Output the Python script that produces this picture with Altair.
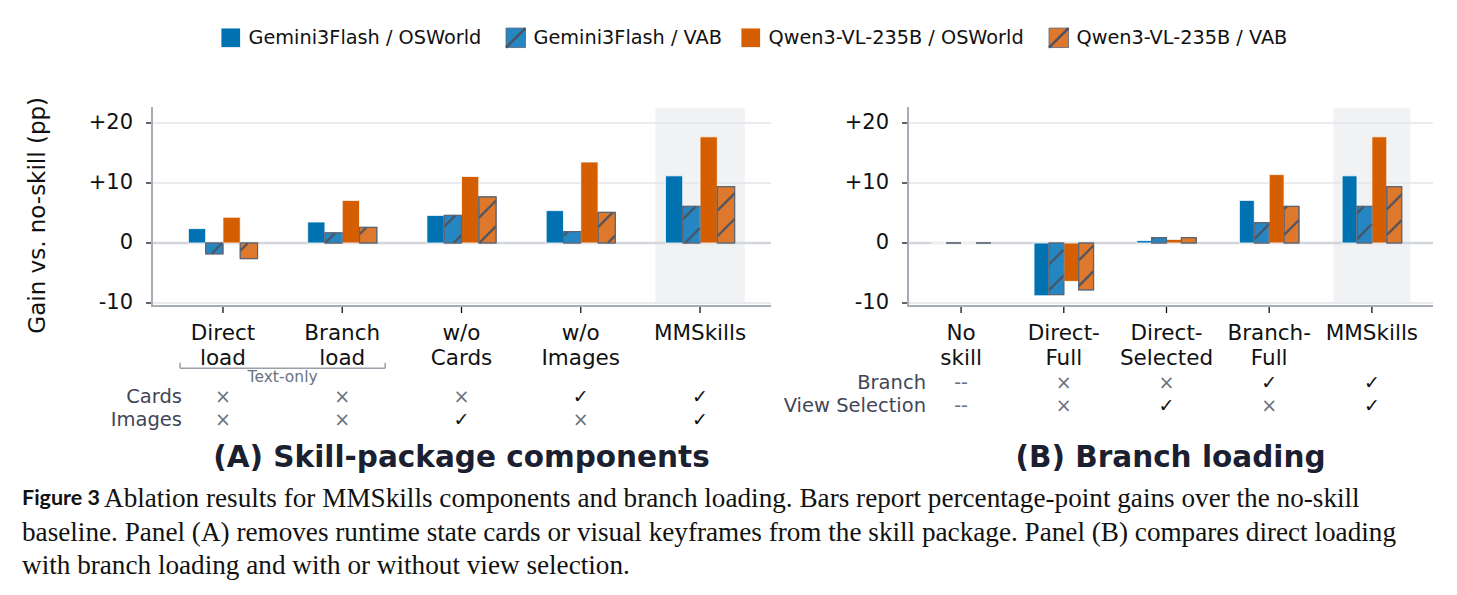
import altair as alt
import numpy as np
import pandas as pd

# ---------------- data ----------------
SERIES = [
    "Gemini3Flash / OSWorld",
    "Gemini3Flash / VAB",
    "Qwen3-VL-235B / OSWorld",
    "Qwen3-VL-235B / VAB",
]
SERIES_FILL = ["#0072B2", "#2686C1", "#D55E00", "#DE782D"]
SERIES_EDGE = ["#ffffff", "#5d6573", "#ffffff", "#5d6573"]
SERIES_HATCHED = [False, True, False, True]

# Panel A: skill-package components
CATS_A = ["Direct\nload", "Branch\nload", "w/o\nCards", "w/o\nImages", "MMSkills"]
GEM_OS_A = [2.4, 3.5, 4.6, 5.4, 11.2]
GEM_VAB_A = [-1.8, 1.7, 4.6, 1.9, 6.1]
QWEN_OS_A = [4.3, 7.1, 11.1, 13.5, 17.7]
QWEN_VAB_A = [-2.6, 2.6, 7.7, 5.1, 9.4]
ROWS_A = ["Cards", "Images"]
CARDS_A = ["×", "×", "×", "✓", "✓"]
IMAGES_A = ["×", "×", "✓", "×", "✓"]

# Panel B: branch loading
CATS_B = ["No\nskill", "Direct-\nFull", "Direct-\nSelected", "Branch-\nFull", "MMSkills"]
GEM_OS_B = [0.0, -8.8, 0.4, 7.1, 11.2]
GEM_VAB_B = [0.0, -8.6, 0.9, 3.4, 6.1]
QWEN_OS_B = [0.0, -6.4, 0.6, 11.4, 17.7]
QWEN_VAB_B = [0.0, -7.8, 0.9, 6.1, 9.4]
ROWS_B = ["Branch", "View Selection"]
BRANCH_B = ["--", "×", "×", "✓", "✓"]
VIEW_B = ["--", "×", "✓", "×", "✓"]

Y_TICKS = [-10, 0, 10, 20]
Y_TICK_LABELS = ["-10", "0", "+10", "+20"]
GRID_TICKS = [-10, 10, 20]
HIGHLIGHT_IDX = 4

CAPTION_HEAD = "Figure 3"
CAPTION_LINES = [
    "Ablation results for MMSkills components and branch loading. Bars report percentage-point gains over the no-skill",
    "baseline. Panel (A) removes runtime state cards or visual keyframes from the skill package. Panel (B) compares direct loading",
    "with branch loading and with or without view selection.",
]

# ---------------- layout ----------------
W_A, W_B, H = 619, 525, 199
GAP = 137
ORIGIN_A = (152.0, 106.7)
ORIGIN_B = (ORIGIN_A[0] + W_A + GAP, ORIGIN_A[1])
PAGE_W, PAGE_H = 1457, 595
Y_DOM = [-10.5, 22.67]
XDOM_A = [-0.595, 4.595]
XDOM_B = [-0.517, 4.595]
SLOT = 0.145
HL_HALF = 0.375
HL_Y = [-10, 22.45]
HATCH_STEP = 25.7
TICK = 6

SANS = "DejaVu Sans"
SERIF = "Liberation Serif"
INK = "#111111"
SLATE = "#3f4756"
MUTED = "#6b7280"
GRID = "#e2e4e9"
SPINE = "#a7adb7"
HATCH_INK = "#4a5262"

ONE = pd.DataFrame({"k": [0]})


def bar_table(series_values):
    rows = []
    for j, vals in enumerate(series_values):
        for i, v in enumerate(vals):
            c = i + (j - 1.5) * SLOT
            rows.append(dict(series=SERIES[j], idx=i, value=v, zero=0.0,
                             xl=c - SLOT / 2, xr=c + SLOT / 2,
                             hatched=SERIES_HATCHED[j]))
    return pd.DataFrame(rows)


def diag_segments(x0, x1, ytop, ybot, offsets):
    """Pieces of the lines x + y = c (screen pixels) inside a rectangle."""
    segs = []
    for c in offsets:
        xs = max(x0, c - ybot)
        xe = min(x1, c - ytop)
        if xe - xs > 0.3:
            segs.append((xs, c - xs, xe, c - xe))
    return segs


def hatch_offsets(x0, x1, ytop, ybot, phase):
    k0 = np.floor((x0 + ytop - phase) / HATCH_STEP)
    k1 = np.ceil((x1 + ybot - phase) / HATCH_STEP)
    return [phase + k * HATCH_STEP for k in np.arange(k0, k1 + 1)]


def hatch_table(bars, xdom, width, phase):
    sx = width / (xdom[1] - xdom[0])
    sy = H / (Y_DOM[1] - Y_DOM[0])
    out = []
    for r in bars[bars.hatched].itertuples():
        x0 = (r.xl - xdom[0]) * sx
        x1 = (r.xr - xdom[0]) * sx
        ya = (Y_DOM[1] - r.value) * sy
        yb = (Y_DOM[1] - 0.0) * sy
        ytop, ybot = min(ya, yb), max(ya, yb)
        for xs, ys, xe, ye in diag_segments(x0, x1, ytop, ybot,
                                            hatch_offsets(x0, x1, ytop, ybot, phase)):
            out.append(dict(x=xdom[0] + xs / sx, y=Y_DOM[1] - ys / sy,
                            x2=xdom[0] + xe / sx, y2=Y_DOM[1] - ye / sy))
    return pd.DataFrame(out, columns=["x", "y", "x2", "y2"])


def label(text, x, y, **mark):
    """A text placed in pixel coordinates of the panel."""
    return alt.Chart(ONE).mark_text(text=text, **mark).encode(
        x=alt.value(x), y=alt.value(y))


def panel(cats, series_values, rows, row_marks, xdom, width, origin, title,
          phase, row_y, row_label_x):
    xs = alt.Scale(domain=xdom, nice=False, zero=False)
    ys = alt.Scale(domain=Y_DOM, nice=False, zero=False)
    bars = bar_table(series_values)
    cat_df = pd.DataFrame({"idx": list(range(len(cats))), "t": cats})
    ytick_df = pd.DataFrame({"v": Y_TICKS, "t": Y_TICK_LABELS})

    layers = []
    # highlighted column
    layers.append(alt.Chart(pd.DataFrame({"x": [HIGHLIGHT_IDX - HL_HALF],
                                          "x2": [HIGHLIGHT_IDX + HL_HALF],
                                          "y": [HL_Y[0]], "y2": [HL_Y[1]]})).mark_rect(
        color="#f1f2f4").encode(
        x=alt.X("x:Q", scale=xs, axis=None), x2="x2:Q",
        y=alt.Y("y:Q", scale=ys, axis=None), y2="y2:Q"))
    # gridlines and the zero line
    layers.append(alt.Chart(pd.DataFrame({"g": GRID_TICKS})).mark_rule(
        color=GRID, strokeWidth=1.3).encode(
        y=alt.Y("g:Q", scale=ys, axis=None), x=alt.value(0), x2=alt.value(width)))
    layers.append(alt.Chart(ONE).mark_rule(color="#d3d6dc", strokeWidth=2.6).encode(
        y=alt.datum(0, scale=ys, axis=None), x=alt.value(0), x2=alt.value(width)))

    # bars, hatching and the hatched bars' outline
    layers.append(alt.Chart(bars).mark_rect(strokeWidth=0.8).encode(
        x=alt.X("xl:Q", scale=xs, axis=None), x2="xr:Q",
        y=alt.Y("value:Q", scale=ys, axis=None), y2="zero:Q",
        fill=alt.Fill("series:N", scale=alt.Scale(domain=SERIES, range=SERIES_FILL), legend=None),
        stroke=alt.Stroke("series:N", scale=alt.Scale(domain=SERIES, range=SERIES_EDGE), legend=None),
    ))
    layers.append(alt.Chart(hatch_table(bars, xdom, width, phase)).mark_rule(
        color=HATCH_INK, strokeWidth=2.4, strokeCap="butt", opacity=0.92).encode(
        x=alt.X("x:Q", scale=xs, axis=None), x2="x2:Q",
        y=alt.Y("y:Q", scale=ys, axis=None), y2="y2:Q"))
    layers.append(alt.Chart(bars[bars.hatched]).mark_rect(
        fillOpacity=0, stroke="#5d6573", strokeWidth=1.2).encode(
        x=alt.X("xl:Q", scale=xs, axis=None), x2="xr:Q",
        y=alt.Y("value:Q", scale=ys, axis=None), y2="zero:Q"))

    # axis spines, ticks and tick labels
    layers.append(alt.Chart(ONE).mark_rule(color=SPINE, strokeWidth=2).encode(
        x=alt.value(0), y=alt.value(0), y2=alt.value(H)))
    layers.append(alt.Chart(ONE).mark_rule(color=SPINE, strokeWidth=2).encode(
        x=alt.value(-1), x2=alt.value(width), y=alt.value(H)))
    layers.append(alt.Chart(ytick_df).mark_rule(color=INK, strokeWidth=1.3).encode(
        y=alt.Y("v:Q", scale=ys, axis=None), x=alt.value(-TICK), x2=alt.value(-1)))
    layers.append(alt.Chart(ytick_df).mark_text(
        font=SANS, fontSize=21, color=INK, align="right", baseline="middle").encode(
        y=alt.Y("v:Q", scale=ys, axis=None), x=alt.value(-TICK - 13), text="t:N"))
    layers.append(alt.Chart(cat_df).mark_rule(color=INK, strokeWidth=1.3).encode(
        x=alt.X("idx:Q", scale=xs, axis=None), y=alt.value(H + 1), y2=alt.value(H + TICK + 1)))
    layers.append(alt.Chart(cat_df).mark_text(
        font=SANS, fontSize=21.5, color=INK, align="center", baseline="middle",
        lineBreak="\n", lineHeight=25).encode(
        x=alt.X("idx:Q", scale=xs, axis=None), y=alt.value(333.5 - origin[1]), text="t:N"))

    # configuration table under the axis
    for r, (name, marks) in enumerate(zip(rows, row_marks)):
        py = row_y[r] - origin[1]
        tbl = pd.DataFrame({"idx": list(range(len(marks))), "t": marks,
                            "c": [INK if m == "✓" else MUTED for m in marks]})
        layers.append(alt.Chart(tbl).mark_text(font=SANS, fontSize=19, baseline="middle").encode(
            x=alt.X("idx:Q", scale=xs, axis=None), y=alt.value(py),
            text="t:N", color=alt.Color("c:N", scale=None)))
        layers.append(label(name, row_label_x - origin[0], py, font=SANS, fontSize=19.5,
                            align="right", baseline="middle", color=SLATE))

    layers.append(label(title, width / 2, 458 - origin[1], font=SANS, fontSize=29.5,
                        fontWeight="bold", align="center", baseline="middle",
                        color="#1b2030"))
    return layers


layers_a = panel(CATS_A, [GEM_OS_A, GEM_VAB_A, QWEN_OS_A, QWEN_VAB_A], ROWS_A,
                 [CARDS_A, IMAGES_A], XDOM_A, W_A, ORIGIN_A,
                 "(A) Skill-package components", 0.7, [397, 420], 182)
layers_b = panel(CATS_B, [GEM_OS_B, GEM_VAB_B, QWEN_OS_B, QWEN_VAB_B], ROWS_B,
                 [BRANCH_B, VIEW_B], XDOM_B, W_B, ORIGIN_B,
                 "(B) Branch loading", 15.7, [383, 406], 926)

ox, oy = ORIGIN_A
extras = []

# page frame (transparent) so the figure spans the whole page
extras.append(alt.Chart(ONE).mark_rect(opacity=0).encode(
    x=alt.value(-ox), x2=alt.value(PAGE_W - ox),
    y=alt.value(-oy), y2=alt.value(PAGE_H - oy)))

# "Text-only" bracket under the first two categories
xs_a = alt.Scale(domain=XDOM_A, nice=False, zero=False)
extras.append(alt.Chart(pd.DataFrame({"x": [-0.36], "x2": [1.36]})).mark_rule(
    color="#9aa0aa", strokeWidth=1.5).encode(
    x=alt.X("x:Q", scale=xs_a, axis=None), x2="x2:Q", y=alt.value(368 - oy)))
extras.append(alt.Chart(pd.DataFrame({"x": [-0.36, 1.36]})).mark_rule(
    color="#9aa0aa", strokeWidth=1.5).encode(
    x=alt.X("x:Q", scale=xs_a, axis=None), y=alt.value(362.5 - oy), y2=alt.value(368 - oy)))
extras.append(alt.Chart(pd.DataFrame({"x": [0.5], "t": ["Text-only"]})).mark_text(
    font=SANS, fontSize=15.5, color=MUTED, baseline="middle").encode(
    x=alt.X("x:Q", scale=xs_a, axis=None), y=alt.value(376.5 - oy), text="t:N"))

# y-axis title
extras.append(label("Gain vs. no-skill (pp)", 38 - ox, 215 - oy, font=SANS, fontSize=23,
                    angle=270, align="center", baseline="middle", color=INK))

# legend
LEG_SQ = [221, 506, 741, 1049]
LEG_SIZE = 19.5
LEG_Y = 37.5
for j, name in enumerate(SERIES):
    x0, x1 = LEG_SQ[j] - ox, LEG_SQ[j] + LEG_SIZE - ox
    y0, y1 = LEG_Y - LEG_SIZE / 2 - oy, LEG_Y + LEG_SIZE / 2 - oy
    extras.append(alt.Chart(ONE).mark_rect(
        fill=SERIES_FILL[j], stroke=SERIES_EDGE[j], strokeWidth=0.8).encode(
        x=alt.value(x0), x2=alt.value(x1), y=alt.value(y0), y2=alt.value(y1)))
    if SERIES_HATCHED[j]:
        c = (x0 + x1) / 2 + (y0 + y1) / 2
        for xs_, ys_, xe_, ye_ in diag_segments(x0, x1, y0, y1, [c]):
            extras.append(alt.Chart(ONE).mark_rule(
                color=HATCH_INK, strokeWidth=2.4, strokeCap="butt").encode(
                x=alt.value(xs_), y=alt.value(ys_), x2=alt.value(xe_), y2=alt.value(ye_)))
    extras.append(label(name, x1 + 8, LEG_Y - oy, font=SANS, fontSize=19.3, align="left",
                        baseline="middle", color=INK))

# figure caption
CAP_Y = [499, 533, 566]
CAP_X = [104, 22, 22]
extras.append(label(CAPTION_HEAD, 22 - ox, CAP_Y[0] - oy, font="Lato",
                    fontSize=21.5, fontWeight="bold", align="left", baseline="middle",
                    color=INK))
for line, x, y in zip(CAPTION_LINES, CAP_X, CAP_Y):
    extras.append(label(line, x - ox, y - oy, font=SERIF, fontSize=27.2, align="left",
                        baseline="middle", color=INK))

panel_a = alt.layer(*layers_a, *extras).properties(width=W_A, height=H)
panel_b = alt.layer(*layers_b).properties(width=W_B, height=H)

chart = alt.hconcat(panel_a, panel_b, spacing=GAP, bounds="flush").configure_view(
    stroke=None).properties(padding=0, background="white")

chart.save("out.html", embed_options={"renderer": "svg", "actions": False})
